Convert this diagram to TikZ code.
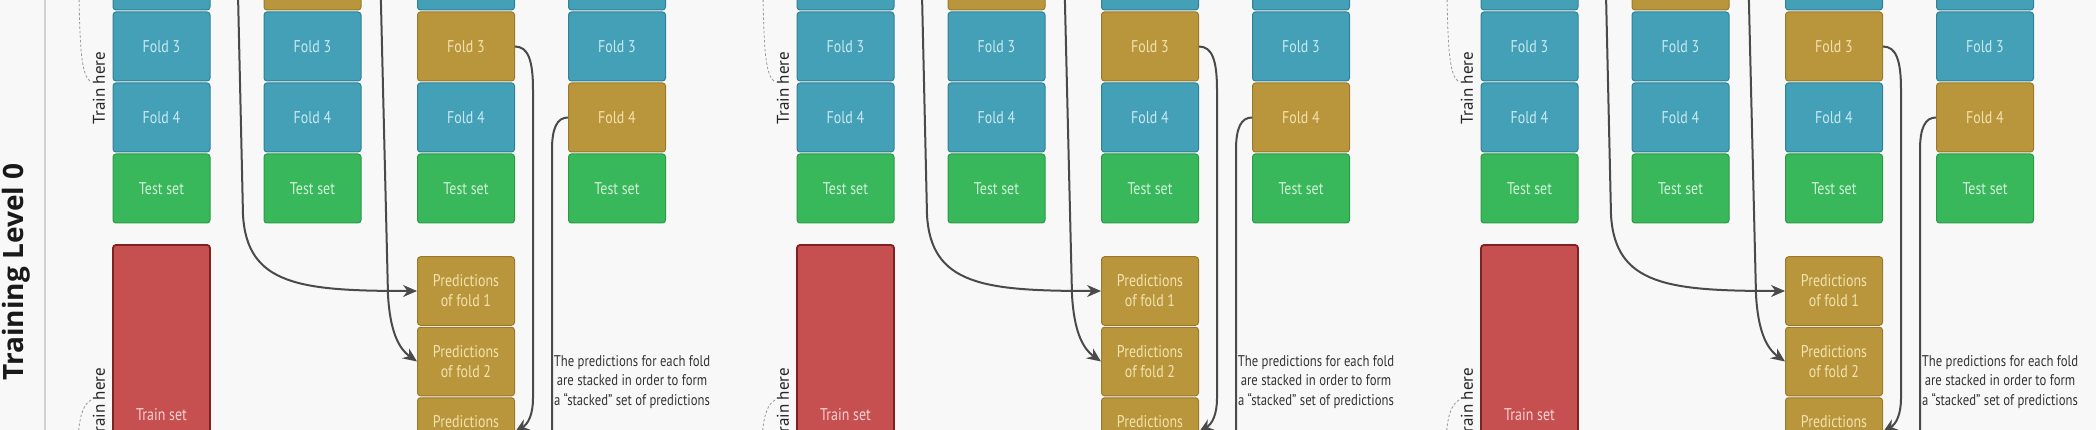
\documentclass[tikz,border=0pt]{standalone}
\usepackage{fontspec}
\usetikzlibrary{arrows.meta}
\newfontfamily\boxfont[FakeStretch=0.82]{PT Sans}
\newfontfamily\notefont{PT Sans}
\newfontfamily\titlefont{Open Sans}
\definecolor{bg}{HTML}{F8F8F8}
\definecolor{blueF}{HTML}{44A0B7}
\definecolor{blueD}{HTML}{2F8197}
\definecolor{blueT}{HTML}{C8EAF2}
\definecolor{goldF}{HTML}{B9963C}
\definecolor{goldD}{HTML}{9A7A2A}
\definecolor{goldT}{HTML}{F3E2AE}
\definecolor{greenF}{HTML}{38B85A}
\definecolor{greenD}{HTML}{2A9A47}
\definecolor{greenT}{HTML}{D0F2DA}
\definecolor{redF}{HTML}{C65050}
\definecolor{redD}{HTML}{7E2222}
\definecolor{redT}{HTML}{F7D2D2}
\definecolor{arrc}{HTML}{4A4A4A}
\tikzset{
 cell/.style={rectangle, rounded corners=3pt, minimum width=97pt, minimum height=69pt, inner sep=0pt, line width=1pt, font=\boxfont\fontsize{17}{20}\selectfont, align=center},
 predcell/.style={cell, fill=goldF, draw=goldD, text=goldT, minimum height=68.5pt},
 trainbox/.style={cell, fill=redF, draw=redD, text=redT, line width=1.8pt, minimum height=340pt},
 flow/.style={draw=arrc, line width=2pt, -{Stealth[length=14pt,width=12pt]}},
 bracket/.style={draw=gray!80, line width=0.8pt, dash pattern=on 2.5pt off 2pt},
 note/.style={font=\notefont\fontsize{17}{20}\selectfont, text=black!85, inner sep=0pt},
 side/.style={font=\boxfont\fontsize{15.5}{19.5}\selectfont, text=black!80, align=center, inner sep=0pt},
 titlestyle/.style={font=\titlefont\bfseries\fontsize{28}{32}\selectfont, text=black!90, rotate=90, inner sep=0pt},
}
\begin{document}
\begin{tikzpicture}[x=1pt,y=-1pt]
\useasboundingbox (0,0) rectangle (2096,430);
\clip (0,0) rectangle (2096,430);
\fill[bg] (0,0) rectangle (2096,430);
% panel 1 only: title and separator
\draw[draw=black!18, line width=1.5pt] (45,-5) -- (45,435);
\node[titlestyle] (title) at (16,272) {Training Level 0};
\foreach \dx/\pn in {0/a,684/b,1368/c}{
 \begin{scope}[xshift=\dx pt]
  \foreach \cl/\cx in {1/161.5,2/312.5,3/466,4/617}{
   \foreach \rw in {1,2,3,4}{
    \pgfmathsetmacro\ry{-95.5+(\rw-1)*71}
    \ifnum\rw=\cl\relax \def\fc{gold}\else\def\fc{blue}\fi
    \node[cell, fill=\fc F, draw=\fc D, text=\fc T] (c\cl r\rw\pn) at (\cx,\ry) {Fold \rw};
   }
   \node[cell, fill=greenF, draw=greenD, text=greenT] (c\cl t\pn) at (\cx,188.5) {Test set};
  }
  \foreach \k/\ky in {1/291,2/361.5,3/432,4/502.5}{
   \node[predcell] (pr\k\pn) at (466,\ky) {Predictions\\of fold \k};
  }
  \node[trainbox] (train\pn) at (161.5,415) {Train set};
  \draw[flow] (c1r1\pn.east) .. controls (232,-95.5) and (237,-80) .. (237,-50) -- (243,215) .. controls (247,285) and (300,291) .. (pr1\pn.west);
  \draw[flow] (c2r2\pn.east) .. controls (377,-24.5) and (381,-15) .. (381,5) -- (388,295) .. controls (390,330) and (398,348) .. (pr2\pn.west);
  \draw[flow] (c3r3\pn.east) .. controls (528,46.5) and (533,60) .. (533,90) -- (533,398) .. controls (533,415) and (528,424) .. (pr3\pn.east);
  \draw[flow] (c4r4\pn.west) .. controls (557,117.5) and (552,128) .. (552,150) -- (552,470) .. controls (552,490) and (540,502.5) .. (pr4\pn.east);
  \node[side] (txt\pn) at (632,382) {The predictions for each fold\\are stacked in order to form\\a “stacked” set of predictions};
  \node[note, rotate=90] (thA\pn) at (99,88) {Train here};
  \node[note, rotate=90] (thB\pn) at (99,404) {Train here};
  \draw[bracket] (79,-5) .. controls (80,55) and (82,76) .. (91,82);
  \draw[bracket] (91,400) .. controls (82,405) and (79,420) .. (78,440);
 \end{scope}
}
\end{tikzpicture}
\end{document}
